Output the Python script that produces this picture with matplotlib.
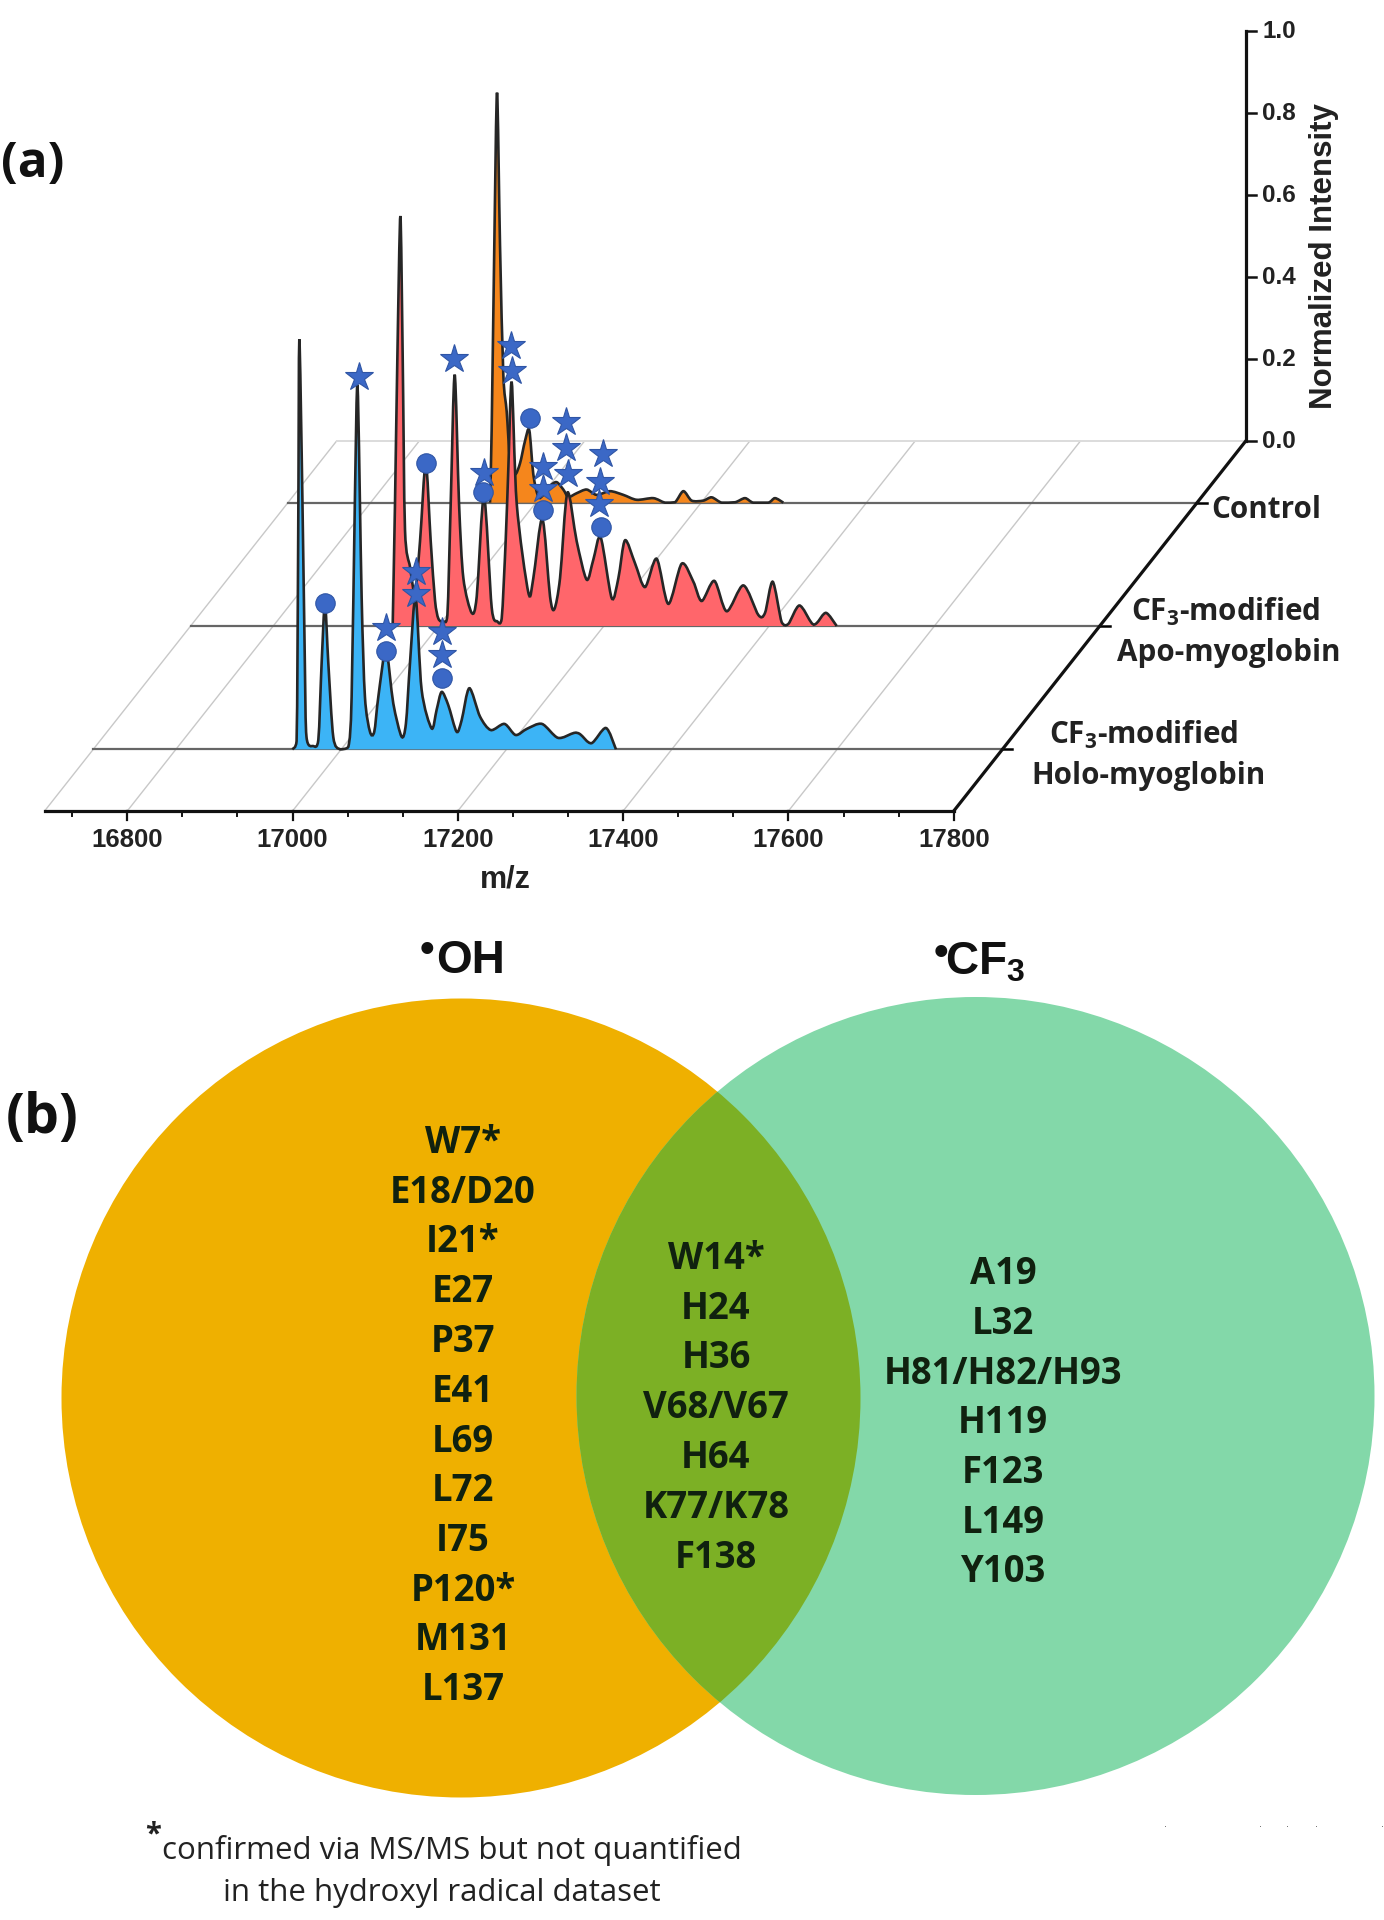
import matplotlib
matplotlib.use('Agg')
import matplotlib.pyplot as plt
from matplotlib.patches import Circle, PathPatch
from matplotlib.path import Path
from matplotlib.transforms import Affine2D

## data ##

holo_mz = [16940.8, 16946, 16948, 16949.3, 16953, 16956, 16958, 16966.2, 16972.3, 16976.3, 16980.3, 16984.4, 16990.4,
           16998.5, 17008.6, 17012.6, 17016.6, 17019.8, 17024.7, 17028.7, 17034.8, 17040, 17044.9, 17054.1, 17063,
           17073, 17078.3, 17083.2, 17090, 17097.3, 17109.4, 17115.4, 17121.5, 17129.5, 17139.6, 17145.7, 17155,
           17167.9, 17181, 17197.5, 17211, 17224.7, 17242.9, 17262.3, 17281.6, 17289, 17302.8, 17320.3, 17332.4]
holo_int = [0, .02, .535, 1.0, .616, .21, .03, .008, .023, .21, .356, .21, .03,
            0, .006, .128, .616, .884, .372, .128, .043, .043, .128, .242, .112,
            .031, .063, .21, .372, .145, .051, .096, .14, .108, .043, .071, .149,
            .08, .047, .062, .035, .05, .062, .028, .04, .037, .015, .052, 0]

apo_mz = [16944.5, 16947.3, 16950.2, 16953.8, 16956.6, 16959.4, 16965.5, 16971.5, 16977.6, 16984.5, 16990.5, 16995.7,
          16999.8, 17005.8, 17010.7, 17014.7, 17019.5, 17024.8, 17030, 17040.1, 17046.2, 17055, 17064.3, 17071.2,
          17076.4, 17081.2, 17084.5, 17088.5, 17094.6, 17108.7, 17114.7, 17125.6, 17134.9, 17140.1, 17147, 17155.9,
          17167.1, 17179.2, 17187.3, 17196.2, 17209.5, 17217.6, 17225.6, 17237.7, 17249.8, 17263.9, 17278, 17294.2,
          17308.3, 17318.4, 17333.7, 17348.6, 17368.8, 17386.9, 17395, 17404.3, 17415.2, 17423.2, 17436.6, 17451.5,
          17457.5, 17468.8, 17481.7]
apo_int = [0, .298, .658, 1.0, .658, .235, .144, .081, .207, .397, .207, .063,
           .018, .011, .027, .298, .613, .298, .117, .032, .072, .316, .045, .011,
           .018, .207, .388, .595, .298, .081, .117, .262, .072, .041, .117, .325,
           .207, .113, .162, .216, .068, .117, .209, .153, .095, .164, .054, .152,
           .108, .061, .11, .036, .099, .027, .032, .108, .009, .005, .05, .007,
           .007, .032, 0]

control_mz = [16944.5, 16946.5, 16949.7, 16953, 16956.6, 16960.6, 16964.7, 16968.7, 16974.7, 16980.8, 16986.8, 16992,
              16996.9, 17003, 17009, 17017.1, 17025.1, 17033.2, 17039.3, 17049.3, 17061.4, 17073.5, 17089.7, 17105.8,
              17121.9, 17142.1, 17156.2, 17168.3, 17178.4, 17188.5, 17202.6, 17212.7, 17224.8, 17241, 17253, 17263,
              17281.2, 17289.3, 17299.4]
control_int = [0, .177, .628, 1.0, .628, .312, .222, .105, .069, .096, .15, .177,
               .069, .014, .019, .041, .05, .032, .014, .023, .032, .019, .028, .019,
               .007, .011, 0, .001, .028, .005, .005, .013, 0, .001, .011, 0,
               0, .011, 0]

holo_star_mz = [17021.5, 17053.7, 17090, 17090, 17121.5, 17121.5]
holo_star_int = [.909, .295, .433, .38, .287, .23]
holo_circle_mz = [16980.3, 17054, 17121.5]
holo_circle_int = [.358, .24, .173]

apo_star_mz = [17019.1, 17054.6, 17087.7, 17088.5, 17126, 17126, 17153.8, 17153.8, 17157, 17198.6, 17195.4, 17194.2]
apo_star_int = [.651, .374, .684, .622, .388, .334, .498, .433, .37, .419, .352, .298]
apo_circle_mz = [16984.5, 17053.4, 17126, 17196.2]
apo_circle_int = [.397, .327, .284, .241]

control_circle_mz = [16992.9]
control_circle_int = [.206]

mz_ticks = [16800, 17000, 17200, 17400, 17600, 17800]
mz_minor = [16733.3, 16866.7, 16933.3, 17066.7, 17133.3, 17266.7, 17333.3, 17466.7, 17533.3, 17666.7, 17733.3]
int_ticks = [0.0, 0.2, 0.4, 0.6, 0.8, 1.0]

oh_only = ['W7*', 'E18/D20', 'I21*', 'E27', 'P37', 'E41', 'L69', 'L72', 'I75', 'P120*', 'M131', 'L137']
both = ['W14*', 'H24', 'H36', 'V68/V67', 'H64', 'K77/K78', 'F138']
cf3_only = ['A19', 'L32', 'H81/H82/H93', 'H119', 'F123', 'L149', 'Y103']

## oblique projection of the 3D plot, in figure pixels ##

front_x, front_y = 44.6, 811  # corner at m/z 16700, front row
px_per_mz = 0.8265
px_per_int = 410
depth_dx, depth_dy = 292, 370
mz_min, mz_max = 16700, 17800

blue = '#3B68C6'
label_font = 'Liberation Sans'
venn_font = 'Open Sans'

plt.rcParams['mathtext.default'] = 'regular'

fig = plt.figure(figsize=(13.84, 19.2), dpi=100)
ax = fig.add_axes([0, 0, 1, 1])


# goes from (m/z, intensity) at a given depth to the pixels of the canvas
def row(depth):
    return (Affine2D().translate(-mz_min, 0).scale(px_per_mz, -px_per_int)
            .translate(front_x + depth * depth_dx, front_y - depth * depth_dy) + ax.transData)


# rounded curve through the read points, so the valleys are not sharp like the original's smoothed trace
def smooth_path(xs, ys, closed=False):
    verts = [(xs[0], ys[0])]
    codes = [Path.MOVETO]
    for i in range(len(xs) - 1):
        a = max(i - 1, 0)
        b = min(i + 2, len(xs) - 1)
        # control points stay above the baseline
        verts.append((xs[i] + (xs[i + 1] - xs[a]) / 7, max(0, ys[i] + (ys[i + 1] - ys[a]) / 7)))
        verts.append((xs[i + 1] - (xs[b] - xs[i]) / 7, max(0, ys[i + 1] - (ys[b] - ys[i]) / 7)))
        verts.append((xs[i + 1], ys[i + 1]))
        codes += [Path.CURVE4] * 3
    if closed:
        verts.append((xs[0], ys[0]))
        codes.append(Path.LINETO)
    return Path(verts, codes)


tf_front = row(0)
tf_back = row(1)

## floor ##
for m in [mz_min] + mz_ticks[:-1]:
    x0 = front_x + (m - mz_min) * px_per_mz
    ax.plot([x0, x0 + depth_dx], [front_y, front_y - depth_dy], color='#c8c8c8', lw=1.0, zorder=1)
ax.plot([mz_min, mz_max], [0, 0], transform=tf_back, color='#dcdcdc', lw=1.4, zorder=1)

## spectra, back to front ##
rows = [(5 / 6, control_mz, control_int, '#F5861C', 2),
        (1 / 2, apo_mz, apo_int, '#FF666B', 3),
        (1 / 6, holo_mz, holo_int, '#3CB4F6', 4)]
for depth, mz, inten, col, z in rows:
    tf = row(depth)
    ax.plot([mz_min, mz_max], [0, 0], transform=tf, color='#666666', lw=1.6, zorder=z)
    ax.add_patch(PathPatch(smooth_path(mz, inten, closed=True), transform=tf, facecolor=col, lw=0, zorder=z))
    ax.add_patch(PathPatch(smooth_path(mz, inten), transform=tf, facecolor='none', edgecolor='#262626', lw=1.9, zorder=z))
    # tick on the depth axis
    ax.plot([mz_max, mz_max + 12], [0, 0], transform=tf, color='black', lw=1.8, zorder=6)

## markers ##
for depth, smz, sint, cmz, cint in [(1 / 6, holo_star_mz, holo_star_int, holo_circle_mz, holo_circle_int),
                                    (1 / 2, apo_star_mz, apo_star_int, apo_circle_mz, apo_circle_int),
                                    (5 / 6, [], [], control_circle_mz, control_circle_int)]:
    tf = row(depth)
    ax.plot(smz, sint, '*', transform=tf, color=blue, mec='#2F55A5', mew=0.8, ms=21, zorder=8)
    ax.plot(cmz, cint, 'o', transform=tf, color=blue, mec='#2F55A5', mew=0.8, ms=14, zorder=8)

## axes ##
ax.plot([mz_min, mz_max], [0, 0], transform=tf_front, color='#111111', lw=2.3, zorder=7)
ax.plot([front_x + (mz_max - mz_min) * px_per_mz, front_x + (mz_max - mz_min) * px_per_mz + depth_dx],
        [front_y, front_y - depth_dy], color='#111111', lw=2.3, zorder=7)
ax.plot([mz_max, mz_max], [0, 1], transform=tf_back, color='#111111', lw=2.3, zorder=7)

for m in mz_ticks:
    x0 = front_x + (m - mz_min) * px_per_mz
    ax.plot([x0, x0], [front_y, front_y + 9], color='#111111', lw=1.6, zorder=7)
    ax.text(x0, 840, str(m), ha='center', va='center', family=label_font, weight='bold', fontsize=18.5, color='#222222')
for m in mz_minor:
    x0 = front_x + (m - mz_min) * px_per_mz
    ax.plot([x0, x0], [front_y, front_y + 5], color='#111111', lw=1.4, zorder=7)
ax.text(505, 880, 'm/z', ha='center', va='center', family=label_font, weight='bold', fontsize=22, color='#222222')

for v in int_ticks:
    ax.plot([mz_max, mz_max + 12], [v, v], transform=tf_back, color='#111111', lw=1.8, zorder=7)
    ax.text(1262, front_y - depth_dy - v * px_per_int, '%.1f' % v, ha='left', va='center',
            family=label_font, weight='bold', fontsize=17.5, color='#222222')
ax.text(1324, 256, 'Normalized Intensity', rotation=90, ha='center', va='center',
        family=label_font, weight='bold', fontsize=22.5, color='#222222')

for txt, x, y in [('Control', 1266, 510), ('CF$_3$-modified', 1226, 612), ('Apo-myoglobin', 1229, 653),
                  ('CF$_3$-modified', 1144, 735), ('Holo-myoglobin', 1148, 776)]:
    ax.text(x, y, txt, ha='center', va='center', family=venn_font, weight='bold', fontsize=21.3, color='#222222')

ax.text(33, 165, '(a)', ha='center', va='center', family=venn_font, weight='bold', fontsize=35.5, color='#111111')
ax.text(42, 1119, '(b)', ha='center', va='center', family=venn_font, weight='bold', fontsize=40, color='#111111')

## venn ##
left = Circle((461, 1398), 399.5, color='#EFB000', lw=0, zorder=1)
right = Circle((975.5, 1396), 399, color='#83D8A9', lw=0, zorder=2)
ax.add_patch(left)
ax.add_patch(right)
overlap = Circle((975.5, 1396), 399, color='#7CB025', lw=0, zorder=3)
ax.add_patch(overlap)
overlap.set_clip_path(left)

ax.text(470, 973, 'OH', ha='center', va='baseline', family=label_font, weight='bold', fontsize=33, color='#111111')
ax.text(427, 962, '\u2022', ha='center', va='baseline', family=label_font, weight='bold', fontsize=30, color='#111111')
ax.text(985.5, 975, 'CF$_3$', ha='center', va='baseline', family=label_font, weight='bold', fontsize=33, color='#111111')
ax.text(941, 965, '\u2022', ha='center', va='baseline', family=label_font, weight='bold', fontsize=30, color='#111111')

row_step = 49.75
for names, x, y0 in [(oh_only, 463, 1143), (both, 716, 1259), (cf3_only, 1003, 1274)]:
    for i, name in enumerate(names):
        ax.text(x, y0 + i * row_step, name, ha='center', va='center', family=venn_font, weight='bold',
                fontsize=26.3, color='#10210f', zorder=5)

## footnote ##
ax.text(153, 1835, '*', ha='center', va='center', family=venn_font, weight='bold', fontsize=21, color='#222222')
ax.text(452, 1851, 'confirmed via MS/MS but not quantified', ha='center', va='center', family=venn_font,
        fontsize=22.5, color='#222222')
ax.text(442, 1893, 'in the hydroxyl radical dataset', ha='center', va='center', family=venn_font,
        fontsize=22.5, color='#222222')

# the small specks at the right of the footnote
ax.plot([1165, 1260, 1287, 1316, 1382], [1827] * 5, ',', color='#777777')

ax.set_xlim(0, 1384)
ax.set_ylim(1920, 0)
ax.axis('off')

fig.savefig('out.png', dpi=100)
